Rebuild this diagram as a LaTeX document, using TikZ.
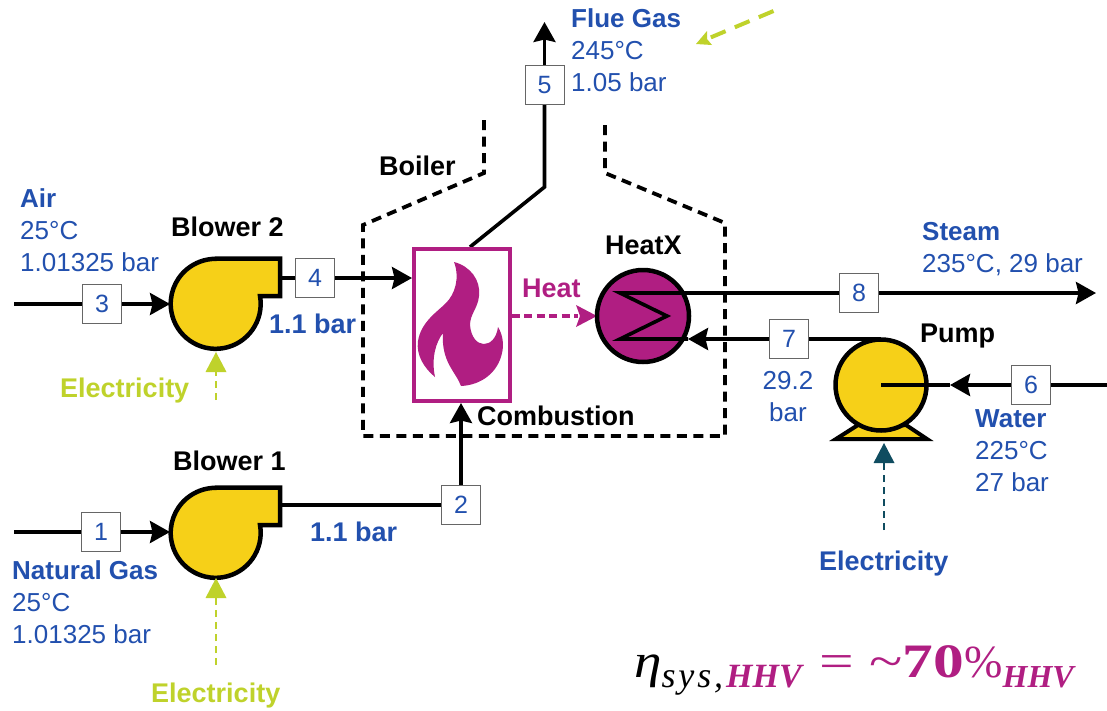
\documentclass[tikz,border=0pt]{standalone}
\usepackage{fontspec}
\setmainfont{Liberation Sans}
\newfontfamily\eqfont[FakeStretch=1.15]{Liberation Serif}
\newfontfamily\eqsub[LetterSpace=8]{Liberation Serif}
\newfontfamily\eqcap{Liberation Serif}
\newfontfamily\eqbig[FakeStretch=1.28]{Liberation Serif}
\usetikzlibrary{arrows.meta}
\definecolor{txtblue}{HTML}{2250AE}
\definecolor{mag}{HTML}{B01E82}
\definecolor{yel}{HTML}{F6D018}
\definecolor{lime}{HTML}{BFD22B}
\definecolor{teal2}{HTML}{0F4C60}
\tikzset{
  tip/.style={-{Stealth[length=20pt,width=22pt,inset=2.5pt]}},
  pipe/.style={line width=3.6pt,black},
  stream/.style={draw=black!60,line width=1pt,fill=white,minimum size=39pt,inner sep=0pt,text=txtblue,font=\fontsize{25}{25}\selectfont},
  info/.style={text=txtblue,align=left,anchor=north west,inner sep=0pt,font=\fontsize{26}{32}\selectfont},
  head/.style={font=\fontsize{27}{32}\selectfont\bfseries,inner sep=0pt,anchor=base west},
  machine/.style={draw=black,line width=4.5pt,fill=yel,line join=miter},
  elec/.style={line width=2.6pt,dash pattern=on 7pt off 5pt},
  boundary/.style={draw=black,line width=3.8pt,dash pattern=on 10pt off 6.5pt},
  blowerbody/.style={machine},
}
\begin{document}
\begin{tikzpicture}[x=1pt,y=-1pt]
\useasboundingbox (0,0) rectangle (1107,710);
% boundary
\draw[boundary] (484,120) -- (484,173) -- (363,225) -- (363,436) -- (725,436) -- (725,223) -- (605,173) -- (605,120);
% named points
\coordinate (air) at (14,304);
\coordinate (gas) at (14,532);
\coordinate (fluein) at (470,247);
\coordinate (flueknee) at (544.5,187);
\coordinate (flueout) at (544.5,22);
\coordinate (steamout) at (1096,293);
\coordinate (waterin) at (1107,385);
\coordinate (hxa) at (620,293);
\coordinate (hxm) at (667,316);
\coordinate (hxb) at (620,339);
\coordinate (bl2in) at (170,304);
\coordinate (bl2out) at (280,278);
\coordinate (bl1in) at (170,532);
\coordinate (bl1out) at (280,505);
\coordinate (combL) at (412,278);
\coordinate (combB) at (461,403);
\coordinate (hxE) at (688,339);
\coordinate (pumpC) at (881,385);
\coordinate (pumpT) at (881,339);
\coordinate (pumpin) at (950,385);
% streams
\node[stream] (s1) at (101,532) {1};
\node[stream] (s2) at (461,505) {2};
\node[stream] (s3) at (102,304) {3};
\node[stream] (s4) at (315,278) {4};
\node[stream] (s5) at (544.5,85) {5};
\node[stream] (s6) at (1031,385) {6};
\node[stream] (s7) at (789,339) {7};
\node[stream] (s8) at (859,293) {8};
% pipes
\draw[pipe] (bl2out) -- (s4);
\draw[pipe,tip] (s4) -- (combL);
\draw[pipe] (air) -- (s3);
\draw[pipe,tip] (s3) -- (bl2in);
\draw[pipe] (gas) -- (s1);
\draw[pipe,tip] (s1) -- (bl1in);
\draw[pipe] (bl1out) -- (s2.west);
\draw[pipe,tip] (s2) -- (combB);
\draw[pipe,line join=miter] (fluein) -- (flueknee) -- (s5);
\draw[pipe,tip] (s5) -- (flueout);
% blowers
\draw[blowerbody] (216,258.5) -- (280,258.5) -- (280,296) -- (260,296) arc[start angle=10,delta angle=-280,radius=45pt] -- cycle;
\draw[blowerbody] (216,487.5) -- (280,487.5) -- (280,525) -- (260,525) arc[start angle=10,delta angle=-280,radius=45pt] -- cycle;
% combustion
\node[draw=mag,line width=4pt,minimum width=96pt,minimum height=152pt,inner sep=0pt] (comb) at (461.5,324.5) {};
\fill[mag] (454,262) .. controls (470,266) and (481,280) .. (479,296)
  .. controls (478,308) and (470,314) .. (470,325)
  .. controls (472,350) and (495,350) .. (498,327)
  .. controls (503,335) and (504,345) .. (502,353)
  .. controls (498,372) and (482,385) .. (461,386)
  .. controls (456,372) and (441,362) .. (443,333)
  .. controls (436,342) and (431,358) .. (435,377)
  .. controls (424,368) and (416,355) .. (418,341)
  .. controls (421,322) and (437,312) .. (446,303)
  .. controls (455,294) and (460,278) .. (454,262) -- cycle;
% heat
\node[head,text=mag] at (522,297) {Heat};
\draw[line width=3.6pt,mag,dash pattern=on 8pt off 4.5pt] (comb.east |- 0,316) -- (578,316);
\coordinate (hxW) at (597,316);
\fill[mag] (hxW) -- (576,305) -- (580,316) -- (576,327) -- cycle;
% heat exchanger
\draw[draw=black,line width=4.5pt,fill=mag] (643,316) circle[radius=46pt];
\draw[pipe,line join=miter] (s8) -- (hxa) -- (hxm) -- (hxb) -- (hxE);
\draw[pipe,tip] (s8) -- (steamout);
\draw[pipe,tip] (pumpT) -- (hxE);
\node[stream] at (s8) {8};
\node[stream] at (s7) {7};
% pump
\draw[machine,line width=4pt] (836,439) -- (858,425) -- (906,425) -- (927,439) -- cycle;
\draw[machine] (pumpC) circle[radius=45.5pt];
\draw[pipe] (pumpC) -- (pumpin);
\draw[pipe] (waterin) -- (s6);
\draw[pipe,tip] (s6) -- (pumpin);
\node[stream] at (s6) {6};
% energy arrows
\coordinate (e2a) at (216,400); \coordinate (e2b) at (216,352);
\coordinate (e1a) at (216,665); \coordinate (e1b) at (216,578);
\coordinate (e3a) at (884,530); \coordinate (e3b) at (884,443);
\draw[lime,elec] (e2a) -- (216,368);
\fill[lime] (e2b) -- (226.5,372) -- (205.5,372) -- cycle;
\draw[lime,elec] (e1a) -- (216,595);
\fill[lime] (e1b) -- (226.5,598) -- (205.5,598) -- cycle;
\draw[teal2,elec] (e3a) -- (884,462);
\fill[teal2] (e3b) -- (894.5,463) -- (873.5,463) -- cycle;
% flue arrow
\coordinate (fa) at (773.5,11); \coordinate (fb) at (696,44);
\draw[lime,line width=4pt,dash pattern=on 16pt off 10pt] (fa) -- (707,39);
\fill[lime] (fb) -- (707,31) -- (707,39) -- (712,45) -- cycle;
% labels
\node[head] at (171,236) {Blower 2};
\node[head] at (173,470) {Blower 1};
\node[head] at (379,175) {Boiler};
\node[head] at (605,254) {HeatX};
\node[head] at (477,425) {Combustion};
\node[head] at (920,342) {Pump};
\node[head,text=txtblue] at (269,333) {1.1 bar};
\node[head,text=txtblue] at (310,541) {1.1 bar};
\node[head,text=lime] at (60,397) {Electricity};
\node[head,text=lime] at (151,702) {Electricity};
\node[head,text=txtblue] at (819,570) {Electricity};
\node[info] at (20,188) {\textbf{Air}\\25°C\\1.01325 bar};
\node[info] at (12,560) {\textbf{Natural Gas}\\25°C\\1.01325 bar};
\node[info] at (571,8) {\textbf{Flue Gas}\\245°C\\1.05 bar};
\node[info] at (922,222) {\textbf{Steam}\\235°C, 29 bar};
\node[info,align=center,anchor=north] at (788,371) {29.2\\bar};
\node[info] at (975,409) {\textbf{Water}\\225°C\\27 bar};
% equation
\node[anchor=base west,inner sep=0pt] at (634,677) {\eqfont\fontsize{48}{48}\selectfont\textit{η}\raisebox{-10pt}{\eqsub\fontsize{36}{36}\selectfont\textit{sys,}\eqcap\fontsize{34}{34}\selectfont\textcolor{mag}{\textbf{\textit{HHV}}}}\hspace{16pt}\textcolor{mag}{\eqbig\fontsize{48}{48}\selectfont=\hspace{15pt}\textasciitilde\textbf{70}\eqcap\fontsize{46}{46}\selectfont\%\raisebox{-10pt}{\eqcap\fontsize{32}{32}\selectfont\textbf{\textit{HHV}}}}};
\end{tikzpicture}
\end{document}
